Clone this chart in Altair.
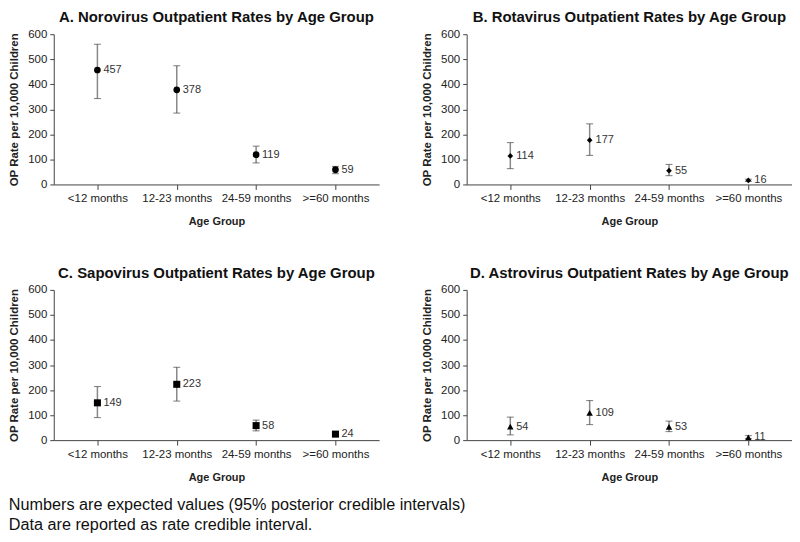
import altair as alt
import pandas as pd

age_groups = ["<12 months", "12-23 months", "24-59 months", ">=60 months"]

noro_rate = [457, 378, 119, 59]
noro_lo = [343, 285, 86, 43]
noro_hi = [560, 474, 153, 72]

rota_rate = [114, 177, 55, 16]
rota_lo = [63, 116, 35, 12]
rota_hi = [167, 242, 80, 21]

sapo_rate = [149, 223, 58, 24]
sapo_lo = [90, 156, 37, 17]
sapo_hi = [214, 291, 80, 33]

astro_rate = [54, 109, 53, 11]
astro_lo = [21, 62, 34, 6]
astro_hi = [92, 158, 76, 18]

y_ticks = [0, 100, 200, 300, 400, 500, 600]

titles = [
    "A. Norovirus Outpatient Rates by Age Group",
    "B. Rotavirus Outpatient Rates by Age Group",
    "C. Sapovirus Outpatient Rates by Age Group",
    "D. Astrovirus Outpatient Rates by Age Group",
]
shapes = ["circle", "diamond", "square", "triangle-up"]
sizes = [45, 32, 50, 42]

FONT = "Liberation Sans"
W, H = 327, 151


def panel(title, rate, lo, hi, shape, size):
    df = pd.DataFrame({"age": age_groups, "rate": rate, "lo": lo, "hi": hi})
    x = alt.X("age:N", sort=age_groups,
              scale=alt.Scale(type="point", padding=0.55),
              axis=alt.Axis(title="Age Group", labelAngle=0, labelFontSize=11.5,
                            labelFont=FONT, labelColor="#222", titleFont=FONT,
                            titleFontSize=11, titleFontWeight="bold",
                            titleColor="#222", titlePadding=12, tickSize=5,
                            domainColor="#444", tickColor="#444", labelPadding=3,
                            labelOverlap=False))
    y_scale = alt.Scale(domain=[0, 600], nice=False)
    y_axis = alt.Axis(title="OP Rate per 10,000 Children",
                      values=y_ticks, tickCount=7,
                      grid=False, labelFontSize=11.5, labelFont=FONT,
                      labelColor="#222", labelOverlap=False, labelSeparation=0,
                      titleFont=FONT, titleFontSize=11.5, titleFontWeight="bold",
                      titleColor="#222", titlePadding=8, tickSize=4,
                      domainColor="#444", tickColor="#444", labelPadding=3)
    base = alt.Chart(df)
    rule = base.mark_rule(color="#888", strokeWidth=1.5).encode(
        x=x, y=alt.Y("lo:Q", scale=y_scale, axis=y_axis), y2="hi:Q")
    cap_lo = base.mark_tick(color="#444", size=7, thickness=1).encode(
        x=x, y=alt.Y("lo:Q", scale=y_scale, axis=y_axis))
    cap_hi = base.mark_tick(color="#444", size=7, thickness=1).encode(
        x=x, y=alt.Y("hi:Q", scale=y_scale, axis=y_axis))
    pts = base.mark_point(shape=shape, filled=True, color="black", opacity=1,
                          size=size).encode(
        x=x, y=alt.Y("rate:Q", scale=y_scale, axis=y_axis))
    lbl = base.mark_text(align="left", baseline="middle", dx=6, fontSize=11,
                         font=FONT, color="#333").encode(
        x=x, y=alt.Y("rate:Q", scale=y_scale, axis=y_axis), text="rate:Q")
    return alt.layer(rule, cap_lo, cap_hi, pts, lbl).properties(
        width=W, height=H,
        title=alt.TitleParams(title, font=FONT, fontSize=15, fontWeight="bold",
                              color="#111", anchor="middle", offset=3))


charts = [panel(titles[0], noro_rate, noro_lo, noro_hi, shapes[0], sizes[0]),
          panel(titles[1], rota_rate, rota_lo, rota_hi, shapes[1], sizes[1]),
          panel(titles[2], sapo_rate, sapo_lo, sapo_hi, shapes[2], sizes[2]),
          panel(titles[3], astro_rate, astro_lo, astro_hi, shapes[3], sizes[3])]

top = alt.hconcat(charts[0], charts[1], spacing=42)
bottom = alt.hconcat(charts[2], charts[3], spacing=42)

chart = alt.vconcat(top, bottom, spacing=39).properties(
    padding={"left": 0, "top": 1, "right": 0, "bottom": 0},
    title=alt.TitleParams(
        ["Numbers are expected values (95% posterior credible intervals)",
         "Data are reported as rate credible interval."],
        orient="bottom", anchor="start", font=FONT, fontSize=16.3,
        fontWeight="normal", color="#111", lineHeight=20, offset=15)
).configure_view(stroke=None)

chart.save("out.html", embed_options={"renderer": "svg", "actions": False})
